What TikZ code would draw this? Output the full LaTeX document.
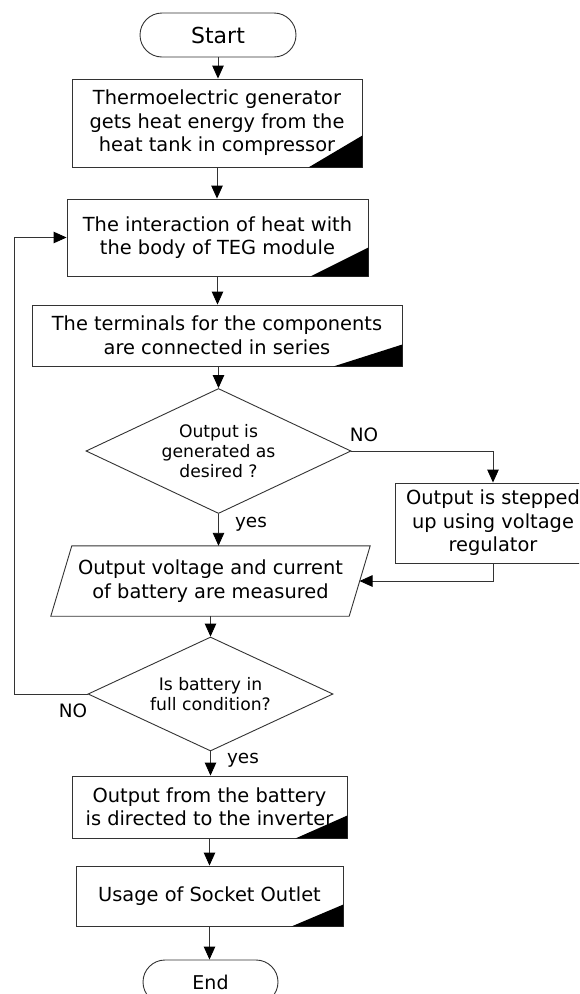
\documentclass[tikz,border=0pt]{standalone}
\usepackage{fontspec}
\setmainfont{DejaVu Sans}
\usetikzlibrary{shapes.geometric,arrows.meta}
\newcommand\cornerfill[3]{\fill[black] (#1.south east) -- ++(-#2,0) -- ++(#2,-#3) -- cycle;}
\begin{document}
\begin{tikzpicture}[x=1pt,y=-1pt,
  line/.style={draw=black!80, line width=0.9pt},
  arr/.style={line, -{Triangle[length=13pt,width=11.5pt,color=black]}},
  procbox/.style={draw=black!80, line width=0.9pt, rectangle, align=center, inner sep=0pt, font=\fontsize{19.4}{23.5}\selectfont},
  term/.style={draw=black!80, line width=0.9pt, rectangle, rounded corners=22pt, minimum height=44pt, inner sep=0pt},
  decision/.style={draw=black!80, line width=0.9pt, diamond, align=center, inner sep=0pt, font=\fontsize{17.2}{20}\selectfont},
  lbl/.style={font=\fontsize{18.4}{22}\selectfont, inner sep=0pt}]
\useasboundingbox (0,0) rectangle (579,994);
\clip (0,0) rectangle (579,994);
\fill[white] (0,0) rectangle (579,994);

\node[term, minimum width=156pt, font=\fontsize{22}{26}\selectfont] (start) at (218,35) {Start};
\node[procbox, minimum width=290pt, minimum height=88pt] (b1) at (217,123) {Thermoelectric generator\\gets heat energy from the\\heat tank in compressor};
\node[procbox, minimum width=301pt, minimum height=77pt] (b2) at (217.5,237.5) {The interaction of heat with\\the body of TEG module};
\node[procbox, minimum width=370pt, minimum height=61pt] (b3) at (217,335.5) {The terminals for the components\\are connected in series};
\node[decision, aspect=2.12, minimum width=265pt, minimum height=125pt] (d1) at (218.5,451) {Output is\\generated as\\desired ?};
\node[procbox, minimum width=196pt, minimum height=80pt] (b4) at (493,523) {Output is stepped\\up using voltage\\regulator};
\node[align=center, inner sep=0pt, minimum width=319pt, minimum height=70pt, font=\fontsize{19.4}{23.5}\selectfont] (meas) at (210.5,581) {Output voltage and current\\of battery are measured};
\node[decision, aspect=2.15, minimum width=245pt, minimum height=114pt] (d2) at (210.5,694) {Is battery in\\full condition?};
\node[procbox, minimum width=275pt, minimum height=62pt] (b5) at (209.5,807) {Output from the battery\\is directed to the inverter};
\node[procbox, minimum width=267pt, minimum height=60pt] (b6) at (209.5,896) {Usage of Socket Outlet};
\node[term, minimum width=135pt, font=\fontsize{19}{23}\selectfont] (end) at (210.5,982) {End};

\draw[line] (meas.south west) -- ([xshift=-21pt]meas.south east) -- (meas.north east) -- ([xshift=21pt]meas.north west) -- cycle;

\cornerfill{b1}{54}{32}
\cornerfill{b2}{58}{29}
\cornerfill{b3}{69}{22}
\cornerfill{b5}{52}{23}
\cornerfill{b6}{52}{22}

\draw[arr] (start.south) -- (start.south |- b1.north);
\draw[arr] (b1.south) -- (b1.south |- b2.north);
\draw[arr] (b2.south) -- (b2.south |- b3.north);
\draw[arr] (d1.north |- b3.south) -- (d1.north);
\draw[arr] (d1.south) -- (d1.south |- meas.north);
\draw[arr] (d1.east) -| (b4.north);
\coordinate (measR) at (359.5,581);
\draw[arr] (b4.south) |- (measR);
\draw[arr] (meas.south) -- (meas.south |- d2.north);
\coordinate (loopc) at (14,694);
\draw[arr] (d2.west) -- (loopc) |- (b2.west);
\draw[arr] (d2.south) -- (d2.south |- b5.north);
\draw[arr] (b5.south) -- (b5.south |- b6.north);
\draw[arr] (b6.south) -- (b6.south |- end.north);

\node[lbl] (no1) at (364,435) {NO};
\node[lbl] (yes1) at (251,524) {yes};
\node[lbl] (no2) at (73,711) {NO};
\node[lbl] (yes2) at (243,760) {yes};
\end{tikzpicture}
\end{document}
